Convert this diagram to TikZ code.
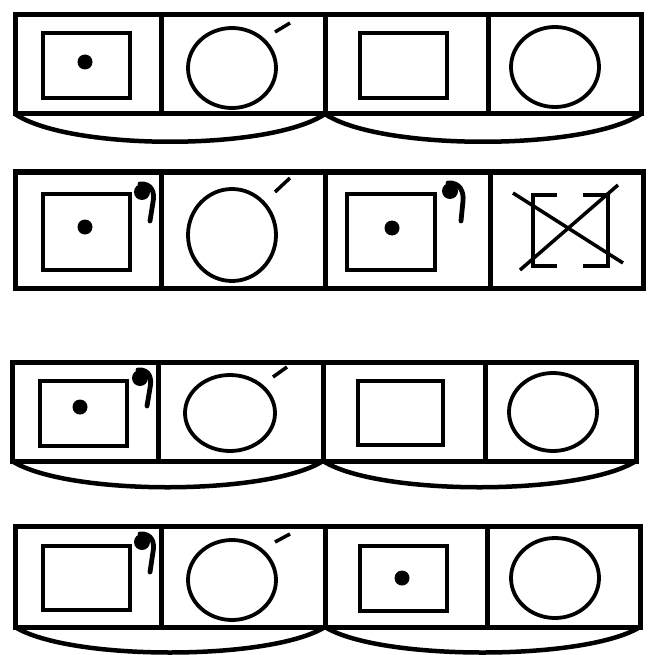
\documentclass[tikz,border=0pt]{standalone}
\begin{document}
\begin{tikzpicture}[x=1pt,y=-1pt,
  frame/.style={line width=5pt,line join=miter},
  sq/.style={line width=4.5pt},
  circ/.style={line width=3.8pt},
  tick/.style={line width=3.5pt},
  xl/.style={line width=3.5pt},
  base/.style={line width=4.5pt},
  hooktail/.style={line width=4.8pt,line cap=round}]
\useasboundingbox (0,0) rectangle (648,655);
% ---------- Row 1 ----------
\draw[frame] (15,15) rectangle (641,114);
\draw[frame] (161,15) -- (161,114) (325,15) -- (325,114) (488,15) -- (488,114);
\draw[base] (15,114) .. controls (70,151) and (270,151) .. (325,114);
\draw[base] (325,114) .. controls (380,151) and (586,151) .. (641,114);
\draw[sq] (43,33) rectangle (130,98);
\fill (85,62) circle (7.5);
\draw[circ] (232,68) ellipse (44 and 40);
\draw[tick] (275,32) -- (290,23);
\draw[sq] (360,33) rectangle (447,98);
\draw[circ] (555,67) ellipse (44 and 40);
% ---------- Row 2 ----------
\draw[frame] (15,172) rectangle (643,288);
\draw[frame] (161,172) -- (161,288) (325,172) -- (325,288) (490,172) -- (490,288);
\draw[sq] (43,194) rectangle (130,270);
\fill (85,227) circle (7.5);
\fill (142,192) circle (8);
\draw[hooktail] (140,184) .. controls (152,183) and (155,193) .. (153,202) -- (150,221);
\draw[circ] (232,235) ellipse (44 and 46);
\draw[tick] (275,192) -- (290,178);
\draw[sq] (347,194) rectangle (435,270);
\fill (392,228) circle (7.5);
\fill (450,191) circle (8);
\draw[hooktail] (448,183) .. controls (460,182) and (464,192) .. (463,201) -- (461,221);
\draw[sq] (557,195) -- (533,195) -- (533,266) -- (557,266);
\draw[sq] (583,195) -- (608,195) -- (608,266) -- (583,266);
\draw[xl] (513,193) -- (623,263);
\draw[xl] (520,270) -- (618,185);
% ---------- Row 3 ----------
\draw[frame] (12,362) rectangle (636,461);
\draw[frame] (158,362) -- (158,461) (323,362) -- (323,461) (485,362) -- (485,461);
\draw[base] (12,461) .. controls (67,496) and (268,496) .. (323,461);
\draw[base] (323,461) .. controls (378,496) and (581,496) .. (636,461);
\draw[sq] (40,381) rectangle (127,446);
\fill (80,407) circle (7.5);
\fill (140,378) circle (8);
\draw[hooktail] (138,370) .. controls (150,369) and (152,379) .. (150,388) -- (147,406);
\draw[circ] (230,413) ellipse (45 and 38);
\draw[tick] (273,377) -- (287,367);
\draw[sq] (358,381) rectangle (443,445);
\draw[circ] (553,412) ellipse (44 and 39);
% ---------- Row 4 ----------
\draw[frame] (15,526) rectangle (640,627);
\draw[frame] (161,526) -- (161,627) (325,526) -- (325,627) (487,526) -- (487,627);
\draw[base] (15,627) .. controls (70,661) and (270,661) .. (325,627);
\draw[base] (325,627) .. controls (380,661) and (585,661) .. (640,627);
\draw[sq] (43,546) rectangle (130,610);
\fill (142,542) circle (8);
\draw[hooktail] (140,534) .. controls (152,533) and (155,543) .. (153,552) -- (150,572);
\draw[circ] (232,580) ellipse (44 and 40);
\draw[tick] (275,542) -- (290,534);
\draw[sq] (360,546) rectangle (447,611);
\fill (402,578) circle (7.5);
\draw[circ] (555,578) ellipse (44 and 40);
\end{tikzpicture}
\end{document}
